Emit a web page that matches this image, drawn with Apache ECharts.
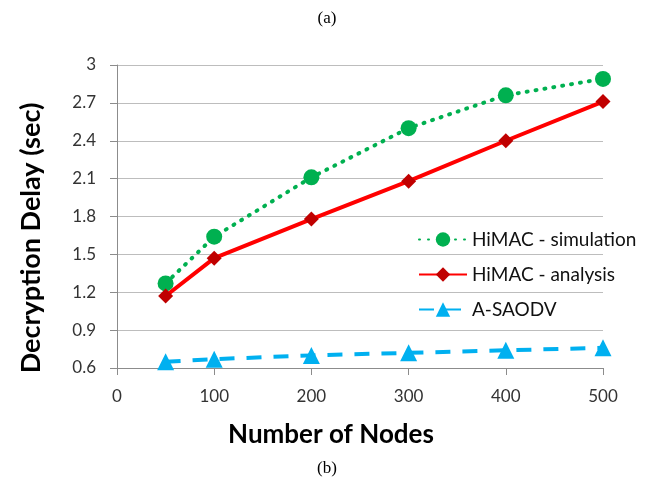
<!DOCTYPE html>
<html>
<head>
<meta charset="utf-8">
<script src="https://cdn.jsdelivr.net/npm/echarts@6/dist/echarts.min.js"></script>
<style>
  html, body { margin: 0; padding: 0; background: #fff; }
  #main { width: 654px; height: 486px; }
</style>
</head>
<body>
<div id="main"></div>
<script>
// 数据
const nodes = [50, 100, 200, 300, 400, 500]
const simulation = [1.27, 1.64, 2.11, 2.50, 2.76, 2.89]
const analysis = [1.17, 1.47, 1.78, 2.08, 2.40, 2.71]
const asaodv = [0.65, 0.67, 0.70, 0.72, 0.74, 0.76]
const seriesNames = ['HiMAC - simulation', 'HiMAC - analysis', 'A-SAODV']

function pairs(ys) {
  return nodes.map((x, i) => [x, ys[i]])
}

const chart = echarts.init(document.getElementById('main'), null, { renderer: 'canvas' })

const font = 'Lato, "Open Sans", sans-serif'

// 每个图例单独放置，方便对齐
const legendTops = [225, 260, 295]
const legends = seriesNames.map((name, i) => ({
  data: [name],
  left: 413,
  top: legendTops[i],
  itemWidth: 48,
  itemHeight: 18,
  itemGap: 6,
  textStyle: { fontFamily: font, fontSize: 19, color: '#111' },
  selectedMode: false,
}))

const option = {
  animation: false,
  backgroundColor: '#fff',
  title: [
    {
      text: '(a)', left: 'center', top: 5,
      textStyle: { fontFamily: '"Liberation Serif", serif', fontSize: 17, fontWeight: 'normal', color: '#000' },
    },
    {
      text: '(b)', left: 'center', top: 455,
      textStyle: { fontFamily: '"Liberation Serif", serif', fontSize: 17, fontWeight: 'normal', color: '#000' },
    },
  ],
  legend: legends,
  grid: { left: 117, right: 51, top: 65, bottom: 118 },
  xAxis: {
    type: 'value',
    min: 0,
    max: 500,
    interval: 100,
    axisLine: { show: true, lineStyle: { color: '#8c8c8c', width: 1 } },
    axisTick: { show: true, length: 7, lineStyle: { color: '#8c8c8c' } },
    axisLabel: { margin: 20, fontFamily: font, fontSize: 17, color: '#333' },
    splitLine: { show: false },
  },
  yAxis: {
    type: 'value',
    min: 0.6,
    max: 3,
    interval: 0.3,
    axisLine: { show: true, lineStyle: { color: '#8c8c8c', width: 1 } },
    axisTick: { show: true, length: 7, lineStyle: { color: '#8c8c8c' } },
    axisLabel: {
      margin: 21, fontFamily: font, fontSize: 17, color: '#333',
      formatter: v => String(parseFloat(v.toFixed(1))),
    },
    splitLine: { show: true, lineStyle: { color: '#bdbdbd', width: 1 } },
  },
  graphic: [
    {
      type: 'text',
      x: 331, y: 435,
      style: { text: 'Number of Nodes', font: 'bold 26px ' + font, fill: '#000', textAlign: 'center', textVerticalAlign: 'middle' },
    },
    {
      type: 'text',
      rotation: Math.PI / 2,
      x: 31, y: 238,
      style: { text: 'Decryption Delay (sec)', font: 'bold 27px ' + font, fill: '#000', textAlign: 'center', textVerticalAlign: 'middle' },
    },
  ],
  series: [
    {
      name: seriesNames[0],
      type: 'line',
      data: pairs(simulation),
      symbol: 'circle',
      symbolSize: 16,
      itemStyle: { color: '#00b050' },
      lineStyle: { color: '#00b050', width: 4, type: [1, 8], cap: 'round' },
      z: 3,
    },
    {
      name: seriesNames[1],
      type: 'line',
      data: pairs(analysis),
      symbol: 'diamond',
      symbolSize: 15,
      itemStyle: { color: '#c00000' },
      lineStyle: { color: '#ff0000', width: 4 },
      z: 4,
    },
    {
      name: seriesNames[2],
      type: 'line',
      data: pairs(asaodv),
      symbol: 'triangle',
      symbolSize: 17,
      itemStyle: { color: '#00b0f0' },
      lineStyle: { color: '#00b0f0', width: 4, type: [15, 12] },
      z: 5,
    },
  ],
}

chart.setOption(option)
</script>
</body>
</html>
